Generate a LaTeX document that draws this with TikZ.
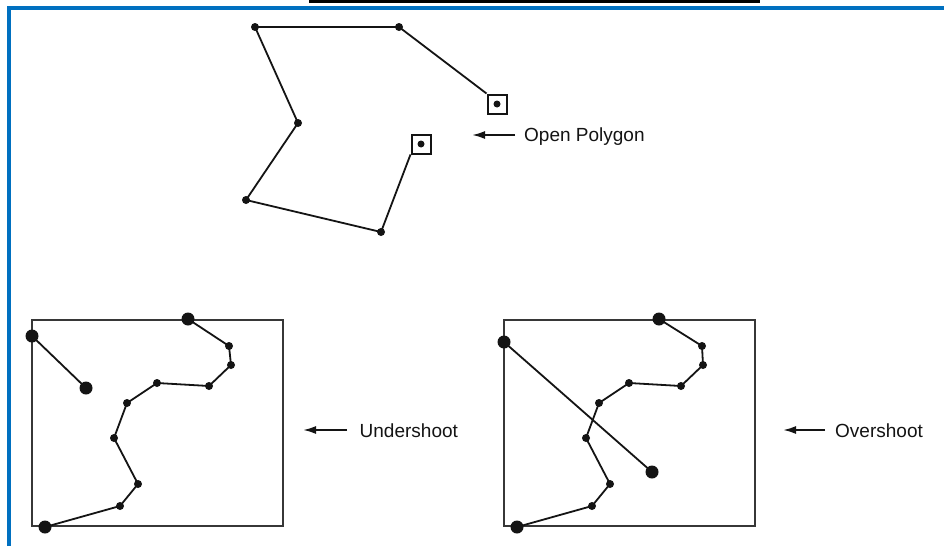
\documentclass[tikz,border=0pt]{standalone}
\usepackage{fontspec}
\setmainfont{Liberation Sans}
\usetikzlibrary{arrows.meta}
\definecolor{frameblue}{RGB}{0,112,192}
\definecolor{ink}{RGB}{20,20,20}
\definecolor{boxgray}{RGB}{55,55,55}
\begin{document}
\begin{tikzpicture}[x=1pt,y=-1pt,
  vtx/.style={circle,fill=ink,inner sep=0pt,minimum size=8pt},
  bigvtx/.style={circle,fill=ink,inner sep=0pt,minimum size=13pt},
  seg/.style={draw=ink,line width=1.8pt},
  endbox/.style={draw=ink,line width=2pt,minimum size=19pt,inner sep=0pt,fill=white},
  pointer/.style={draw=ink,line width=2pt,-{Latex[length=13pt,width=8pt]}},
  lbl/.style={font=\fontsize{19}{22}\selectfont,text=ink,inner sep=0pt,anchor=base west},
  frame/.style={draw=boxgray,line width=1.8pt}]
\useasboundingbox (0,0) rectangle (944,546);
\fill[white] (0,0) rectangle (944,546);
% top bar and blue frame
\fill[black] (309,0) rectangle (760,2.6);
\draw[frameblue,line width=4pt,line join=miter] (9,546) -- (9,8) -- (944,8);

% ---------- Open polygon ----------
\node[endbox] (c) at (497,104) {};
\node[endbox] (d) at (421,144) {};
\coordinate (pb) at (399,27);
\coordinate (pa) at (255,27);
\coordinate (pg) at (298,123);
\coordinate (pf) at (246,200);
\coordinate (pe) at (381,232);
\draw[seg,line join=round] (c.north west) -- (pb) -- (pa) -- (pg) -- (pf) -- (pe) -- (d.south west);
\node[vtx,minimum size=7pt] at (c) {};
\node[vtx,minimum size=7pt] at (d) {};
\foreach \p in {pa,pb,pg,pf,pe} \node[vtx] at (\p) {};
\node[lbl] (opl) at (524,141.5) {Open Polygon};
\coordinate (opa) at (515,135);
\coordinate (opb) at (472,135);
\draw[pointer] (opa) -- (opb);

% ---------- Undershoot ----------
\draw[frame] (32,320) rectangle (283,526);
\coordinate (u1) at (32,336);
\coordinate (u2) at (86,388);
\draw[seg] (u1) -- (u2);
\coordinate (u3) at (188,319);
\coordinate (u4) at (229,346);
\coordinate (u5) at (231,365);
\coordinate (u6) at (209,386);
\coordinate (u7) at (157,383);
\coordinate (u8) at (127,403);
\coordinate (u9) at (114,438);
\coordinate (u10) at (138,484);
\coordinate (u11) at (120,506);
\coordinate (u12) at (45,527);
\draw[seg,line join=round] (u3) -- (u4) -- (u5) -- (u6) -- (u7) -- (u8) -- (u9) -- (u10) -- (u11) -- (u12);
\foreach \p in {u4,u5,u6,u7,u8,u9,u10,u11} \node[vtx] at (\p) {};
\foreach \p in {u1,u2,u3,u12} \node[bigvtx] at (\p) {};
\node[lbl] (ul) at (359.5,437) {Undershoot};
\coordinate (uaa) at (347,430);
\coordinate (uab) at (303,430);
\draw[pointer] (uaa) -- (uab);

% ---------- Overshoot ----------
\draw[frame] (504,320) rectangle (755,526);
\coordinate (o1) at (504,342);
\coordinate (o2) at (652,472);
\draw[seg] (o1) -- (o2);
\coordinate (o3) at (659,319);
\coordinate (o4) at (702,346);
\coordinate (o5) at (703,365);
\coordinate (o6) at (681,386);
\coordinate (o7) at (629,383);
\coordinate (o8) at (599,403);
\coordinate (o9) at (586,438);
\coordinate (o10) at (610,484);
\coordinate (o11) at (592,506);
\coordinate (o12) at (517,527);
\draw[seg,line join=round] (o3) -- (o4) -- (o5) -- (o6) -- (o7) -- (o8) -- (o9) -- (o10) -- (o11) -- (o12);
\foreach \p in {o4,o5,o6,o7,o8,o9,o10,o11} \node[vtx] at (\p) {};
\foreach \p in {o1,o2,o3,o12} \node[bigvtx] at (\p) {};
\node[lbl] (ol) at (835,437) {Overshoot};
\coordinate (oaa) at (825,430);
\coordinate (oab) at (783,430);
\draw[pointer] (oaa) -- (oab);
\end{tikzpicture}
\end{document}
